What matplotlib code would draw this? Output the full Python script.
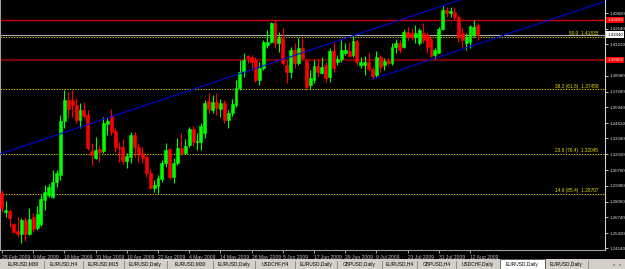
import numpy as np
import matplotlib.pyplot as plt
from matplotlib.transforms import blended_transform_factory
from matplotlib.patches import Rectangle

# EURUSD daily bars, 25 Feb 2009 - 14 Aug 2009
opens = [1.2878, 1.2719, 1.2727, 1.2618, 1.2560, 1.2534, 1.2652, 1.2534, 1.2677, 1.2585,
         1.2618, 1.2819, 1.2861, 1.2844, 1.2970, 1.3028, 1.3480, 1.3656, 1.3656, 1.3614,
         1.3489, 1.3572, 1.3530, 1.3229, 1.3171, 1.3246, 1.3229, 1.3455, 1.3522, 1.3397,
         1.3263, 1.3263, 1.3145, 1.3179, 1.3363, 1.3263, 1.3212, 1.3179, 1.3045, 1.2919,
         1.2936, 1.2995, 1.3129, 1.3246, 1.3011, 1.3129, 1.3254, 1.3212, 1.3279, 1.3413,
         1.3305, 1.3305, 1.3380, 1.3648, 1.3572, 1.3639, 1.3581, 1.3631, 1.3489, 1.3547,
         1.3614, 1.3757, 1.3890, 1.4024, 1.4016, 1.3991, 1.3823, 1.3924, 1.4116, 1.4141,
         1.4300, 1.4133, 1.4175, 1.3949, 1.3890, 1.4075, 1.3966, 1.4091, 1.3982, 1.3782,
         1.3823, 1.3941, 1.3882, 1.3949, 1.3849, 1.4066, 1.3974, 1.3999, 1.4049, 1.4066,
         1.4033, 1.4150, 1.3949, 1.3949, 1.3974, 1.3916, 1.3865, 1.4016, 1.3949, 1.3982,
         1.3966, 1.4100, 1.4133, 1.4100, 1.4225, 1.4217, 1.4183, 1.4133, 1.4217, 1.4200,
         1.4167, 1.4033, 1.4049, 1.4250, 1.4409, 1.4384, 1.4393, 1.4351, 1.4217, 1.4133,
         1.4141, 1.4200, 1.4284]
highs = [1.2903, 1.2811, 1.2744, 1.2627, 1.2677, 1.2668, 1.2677, 1.2752, 1.2710, 1.2769,
         1.2861, 1.2945, 1.2953, 1.3070, 1.3070, 1.3530, 1.3740, 1.3723, 1.3740, 1.3673,
         1.3631, 1.3639, 1.3572, 1.3296, 1.3346, 1.3279, 1.3514, 1.3514, 1.3581, 1.3422,
         1.3305, 1.3330, 1.3212, 1.3388, 1.3388, 1.3296, 1.3263, 1.3196, 1.3078, 1.2986,
         1.3028, 1.3154, 1.3296, 1.3254, 1.3171, 1.3338, 1.3380, 1.3330, 1.3430, 1.3438,
         1.3380, 1.3463, 1.3656, 1.3715, 1.3698, 1.3715, 1.3664, 1.3656, 1.3572, 1.3664,
         1.3823, 1.3991, 1.4049, 1.4033, 1.4033, 1.4016, 1.3974, 1.4158, 1.4242, 1.4309,
         1.4326, 1.4225, 1.4259, 1.3991, 1.4100, 1.4133, 1.4175, 1.4175, 1.3999, 1.3907,
         1.3991, 1.3999, 1.4016, 1.3974, 1.4091, 1.4141, 1.4033, 1.4158, 1.4133, 1.4141,
         1.4200, 1.4158, 1.4016, 1.4024, 1.4049, 1.3932, 1.4066, 1.4033, 1.4008, 1.4008,
         1.4133, 1.4167, 1.4158, 1.4250, 1.4267, 1.4259, 1.4284, 1.4259, 1.4300, 1.4225,
         1.4183, 1.4091, 1.4267, 1.4443, 1.4434, 1.4434, 1.4434, 1.4367, 1.4259, 1.4217,
         1.4284, 1.4326, 1.4300]
lows = [1.2719, 1.2677, 1.2593, 1.2543, 1.2509, 1.2459, 1.2476, 1.2526, 1.2551, 1.2568,
        1.2601, 1.2735, 1.2844, 1.2836, 1.2928, 1.2986, 1.3422, 1.3505, 1.3514, 1.3463,
        1.3422, 1.3505, 1.3238, 1.3112, 1.3162, 1.3137, 1.3212, 1.3363, 1.3363, 1.3221,
        1.3137, 1.3120, 1.3087, 1.3129, 1.3179, 1.3137, 1.3129, 1.3011, 1.2911, 1.2886,
        1.2878, 1.2970, 1.3095, 1.2995, 1.2961, 1.3112, 1.3196, 1.3204, 1.3263, 1.3271,
        1.3238, 1.3238, 1.3338, 1.3547, 1.3547, 1.3530, 1.3514, 1.3463, 1.3422, 1.3522,
        1.3597, 1.3740, 1.3849, 1.3966, 1.3907, 1.3807, 1.3782, 1.3907, 1.4091, 1.4133,
        1.4091, 1.4058, 1.3949, 1.3798, 1.3840, 1.3924, 1.3949, 1.3991, 1.3740, 1.3748,
        1.3798, 1.3849, 1.3874, 1.3807, 1.3807, 1.3890, 1.3949, 1.3974, 1.4033, 1.4016,
        1.4016, 1.3949, 1.3924, 1.3865, 1.3907, 1.3832, 1.3849, 1.3890, 1.3907, 1.3949,
        1.3949, 1.4049, 1.4049, 1.4091, 1.4158, 1.4158, 1.4133, 1.4116, 1.4133, 1.4049,
        1.4016, 1.3999, 1.4049, 1.4242, 1.4351, 1.4351, 1.4334, 1.4141, 1.4100, 1.4075,
        1.4091, 1.4183, 1.4158]
closes = [1.2752, 1.2735, 1.2668, 1.2551, 1.2534, 1.2652, 1.2534, 1.2660, 1.2576, 1.2702,
          1.2827, 1.2886, 1.2928, 1.2970, 1.3045, 1.3480, 1.3656, 1.3581, 1.3614, 1.3489,
          1.3572, 1.3522, 1.3254, 1.3196, 1.3238, 1.3221, 1.3463, 1.3480, 1.3388, 1.3263,
          1.3254, 1.3145, 1.3187, 1.3363, 1.3263, 1.3212, 1.3171, 1.3045, 1.2919, 1.2945,
          1.3003, 1.3129, 1.3238, 1.3011, 1.3129, 1.3254, 1.3212, 1.3271, 1.3413, 1.3305,
          1.3313, 1.3438, 1.3631, 1.3581, 1.3639, 1.3589, 1.3631, 1.3489, 1.3547, 1.3623,
          1.3757, 1.3890, 1.3991, 1.4008, 1.3974, 1.3823, 1.3924, 1.4141, 1.4141, 1.4300,
          1.4133, 1.4175, 1.3966, 1.3890, 1.4075, 1.3966, 1.4091, 1.4008, 1.3765, 1.3840,
          1.3941, 1.3890, 1.3932, 1.3840, 1.4066, 1.3924, 1.3999, 1.4075, 1.4075, 1.4024,
          1.4150, 1.3974, 1.3974, 1.3974, 1.3916, 1.3857, 1.4016, 1.3932, 1.3982, 1.3966,
          1.4100, 1.4133, 1.4075, 1.4225, 1.4183, 1.4183, 1.4217, 1.4242, 1.4158, 1.4100,
          1.4024, 1.4075, 1.4250, 1.4409, 1.4384, 1.4401, 1.4351, 1.4183, 1.4158, 1.4183,
          1.4275, 1.4267, 1.4200]

date_labels = ["25 Feb 2009", "9 Mar 2009", "19 Mar 2009", "31 Mar 2009", "10 Apr 2009",
               "22 Apr 2009", "4 May 2009", "14 May 2009", "26 May 2009", "5 Jun 2009",
               "17 Jun 2009", "29 Jun 2009", "9 Jul 2009", "21 Jul 2009", "31 Jul 2009",
               "12 Aug 2009"]
price_ticks = [1.43820, 1.42540, 1.41220, 1.39900, 1.38580, 1.37260, 1.35940, 1.34620,
               1.33340, 1.32020, 1.30700, 1.29380, 1.28060, 1.26740, 1.25420, 1.24140]

fib_levels = [1.41835, 1.37459, 1.32045, 1.28707]
fib_labels = ["50.0  1.41835", "38.2 (61.8)  1.37459", "23.6 (76.4)  1.32045",
              "14.6 (85.4)  1.28707"]
resistance = 1.4326
support = 1.3991
last_price = 1.4204
# channel anchors (bar index, price)
upper_ch = ([-0.5, 117.4], [1.3204, 1.4493])
lower_ch = ([95.1, 154.1], [1.3832, 1.4476])

tabs = ["EURUSD,M30", "EURUSD,H4", "EURUSD,M15", "EURUSD,Daily", "EURUSD,M30",
        "EURUSD,Daily", "USDCHF,H4", "EURUSD,Daily", "GBPUSD,Daily", "EURUSD,H4",
        "GBPUSD,H4", "USDCHF,Daily", "EURUSD,Daily", "EURUSD,Daily"]
active_tab = 12

W, H = 625, 269
fig = plt.figure(figsize=(W / 100, H / 100), dpi=100, facecolor="black")
ax = fig.add_axes([0, 19 / H, 605 / W, 250 / H])
ax.set_facecolor("black")

o = np.array(opens); h = np.array(highs); l = np.array(lows); c = np.array(closes)
idx = np.arange(len(o))
up = c >= o
for mask, col in [(up, "#00ff00"), (~up, "#ff0000")]:
    ax.vlines(idx[mask], l[mask], h[mask], color=col, lw=0.8, zorder=3)
    ax.bar(idx[mask], c[mask] - o[mask], bottom=o[mask], width=0.75, color=col,
           edgecolor=col, lw=0.4, zorder=4)

# horizontal levels
ax.axhline(resistance, color="#d00000", lw=1.0, zorder=2)
ax.axhline(support, color="#7a0000", lw=1.6, zorder=2)
ax.axhline(last_price, color="#b0b0b0", lw=0.8, zorder=2)
for lev in fib_levels:
    ax.axhline(lev, color="#c8c000", lw=0.8, ls=(0, (1.2, 1.2)), zorder=2)
for lev, lab in zip(fib_levels, fib_labels):
    ax.text(152.9, lev + 0.0006, lab, color="#e8e000", fontsize=3.4, ha="right",
            va="bottom", family="Liberation Sans", zorder=6)

# channel
ax.axline((upper_ch[0][0], upper_ch[1][0]), (upper_ch[0][1], upper_ch[1][1]),
          color="#0000e0", lw=0.8, zorder=5)
slope = (lower_ch[1][1] - lower_ch[1][0]) / (lower_ch[0][1] - lower_ch[0][0])
ax.plot([lower_ch[0][0], 200], [lower_ch[1][0], lower_ch[1][0] + (200 - lower_ch[0][0]) * slope],
        color="#0000e0", lw=0.8, zorder=5)

ax.set_xlim(-0.5, 154.6)
ax.set_ylim(1.24005, 1.4493)

# axes frame
ax.spines["top"].set_visible(False)
ax.spines["left"].set_color("#a0a0a0")
ax.spines["left"].set_linewidth(1.5)
ax.spines["right"].set_color("#d0d0d0")
ax.spines["right"].set_linewidth(0.8)
ax.spines["bottom"].set_color("#a0a0a0")
ax.spines["bottom"].set_linewidth(0.8)

ax.yaxis.tick_right()
ax.set_yticks(price_ticks)
# the 1.39900 label sits under the support price box
ax.set_yticklabels(["" if abs(v - support) < 0.0005 else f"{v:.5f}" for v in price_ticks])
ax.tick_params(axis="y", colors="#e0e0e0", length=2, width=0.6, pad=1.0,
               labelsize=3.2)
ax.set_xticks(range(0, 8 * len(date_labels), 8))
ax.set_xticklabels(date_labels, ha="left")
ax.tick_params(axis="x", colors="#c0c0c0", length=2.5, width=0.6, pad=0.8,
               labelsize=3.6)
for t in ax.get_xticklabels() + ax.get_yticklabels():
    t.set_family("Liberation Sans")

# price boxes on the scale
tr = blended_transform_factory(ax.transAxes, ax.transData)
for price, txt, fc, tc in [(resistance, "1.43250", "#ff0000", "white"),
                           (support, "1.39900", "#ff0000", "white"),
                           (last_price, "1.42040", "white", "black")]:
    ax.text(1.004, price, txt, transform=tr, ha="left", va="center", fontsize=3.2,
            color=tc, family="Liberation Sans", clip_on=False, zorder=10,
            bbox=dict(boxstyle="square,pad=0.25", fc=fc, ec="none"))

# tab bar
tb = fig.add_axes([0, 0, 1, 10 / H])
tb.set_xlim(0, W)
tb.set_ylim(0, 10)
tb.set_facecolor("#d4d0c8")
tb.set_xticks([]); tb.set_yticks([])
for s in tb.spines.values():
    s.set_visible(False)
edges = [3, 44, 83, 124, 167, 213, 255, 295, 337, 382, 417, 456, 500, 545, 588]
for k, name in enumerate(tabs):
    x0, x1 = edges[k], edges[k + 1]
    if k == active_tab:
        tb.add_patch(Rectangle((x0, 0), x1 - x0, 10, fc="white", ec="#404040", lw=0.6))
    else:
        tb.plot([x1, x1], [1.5, 8.5], color="#808080", lw=0.6)
    tb.text((x0 + x1) / 2, 4.8, name, fontsize=3.5, ha="center", va="center",
            color="black", family="Liberation Sans")
tb.text(613, 4.8, "\u25c4", fontsize=2.8, ha="center", va="center", color="#808080")
tb.text(620, 4.8, "\u25ba", fontsize=2.8, ha="center", va="center", color="#808080")

fig.savefig("out.png", dpi=100, facecolor="black")
